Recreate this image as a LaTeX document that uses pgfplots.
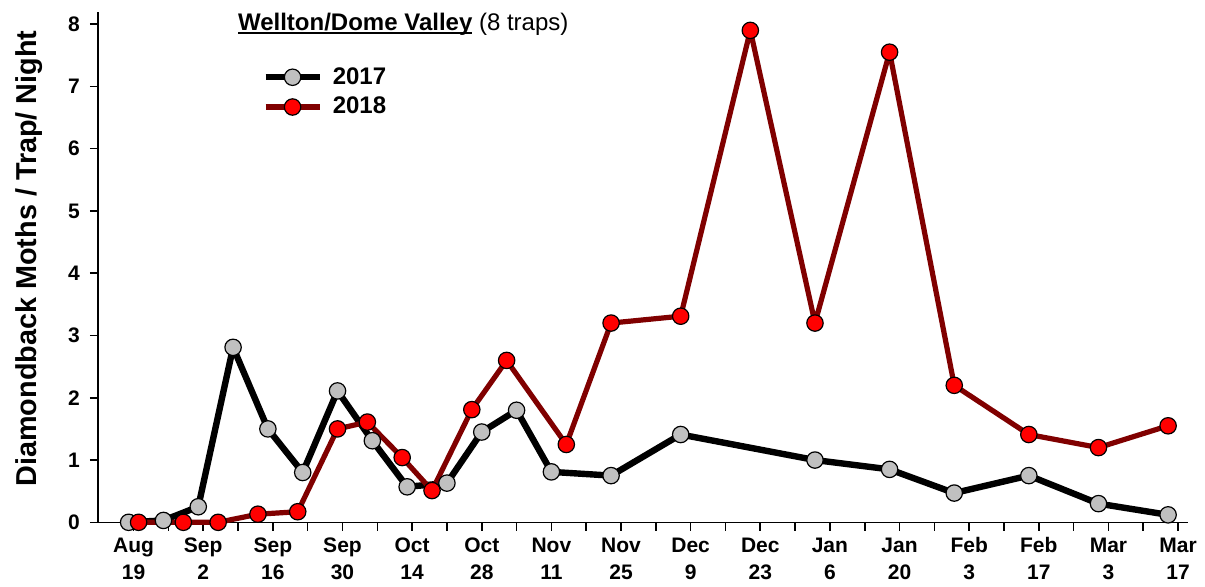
\documentclass[border=0pt]{standalone}
\usepackage{fontspec}
\setmainfont{Liberation Sans}
\usepackage{pgfplots}
\pgfplotsset{compat=1.18}
\definecolor{mgray}{RGB}{192,192,192}
\definecolor{dred}{RGB}{128,0,0}
\newcommand\ul[1]{\setbox0\hbox{#1}\rlap{\rule[-2.1pt]{\wd0}{0.9pt}}\box0}
\begin{document}
\begin{tikzpicture}
\begin{axis}[
 name=ax,
 scale only axis,
 width=544.85pt, height=255.3pt,
 xmin=-7.1, xmax=212, ymin=0, ymax=8.2,
 axis lines=left,
 axis line style={-, line width=0.8pt},
 tick align=outside,
 major tick length=4.2pt, minor tick length=4.2pt,
 tick style={line width=0.8pt, black},
 xtick={0,14,...,210},
 minor xtick={7,21,...,203},
 xticklabels={{Aug\\19},{Sep\\2},{Sep\\16},{Sep\\30},{Oct\\14},{Oct\\28},{Nov\\11},{Nov\\25},{Dec\\9},{Dec\\23},{Jan\\6},{Jan\\20},{Feb\\3},{Feb\\17},{Mar\\3},{Mar\\17}},
 xticklabel style={align=center, font=\bfseries\fontsize{10.5}{13.5}\selectfont},
 ytick={0,...,8},
 yticklabel style={font=\bfseries\fontsize{10.5}{12}\selectfont, xshift=-1.5pt},
 /pgf/number format/assume math mode=true,
 every axis y label/.style={at={(axis description cs:-0.0637,0.5166)}, rotate=90, anchor=center},
 ylabel={Diamondback Moths / Trap/ Night},
 ylabel style={font=\bfseries\fontsize{14.4}{16}\selectfont},
 clip=false,
 legend style={at={(rel axis cs:0.1502,0.8996)}, anchor=north west, draw=none, fill=none, inner sep=0pt, font=\bfseries\fontsize{12}{14}\selectfont, row sep=1pt, /tikz/every odd column/.append style={column sep=3pt}},
 legend image code/.code={\draw[mark repeat=2,mark phase=2] plot coordinates {(0pt,0pt)(13.5pt,0pt)(27pt,0pt)};},
 legend cell align=left,
]
\addplot[black, line width=3.2pt, line join=round, mark=*, mark size=4.1pt, mark options={fill=mgray, draw=black, line width=0.6pt}] coordinates {
(-1,0) (6,0.03) (13,0.25) (20,2.81) (27,1.50) (34,0.80) (41,2.11) (48,1.31) (55,0.57) (63,0.63) (70,1.45) (77,1.80) (84,0.81) (96,0.75) (110,1.41) (137,1.00) (152,0.85) (165,0.47) (180,0.75) (194,0.30) (208,0.12)
};
\addlegendentry{2017}
\addplot[dred, line width=2.6pt, line join=round, mark=*, mark size=4.1pt, mark options={fill=red, draw=black, line width=0.6pt}] coordinates {
(1,0) (10,0) (17,0) (25,0.13) (33,0.17) (41,1.50) (47,1.61) (54,1.04) (60,0.51) (68,1.81) (75,2.60) (87,1.25) (96,3.20) (110,3.31) (124,7.90) (137,3.20) (152,7.55) (165,2.20) (180,1.41) (194,1.20) (208,1.55)
};
\addlegendentry{2018}
\node[anchor=base west, font=\fontsize{12}{14}\selectfont] at (rel axis cs:0.1218,0.964) {\ul{\textbf{Wellton/Dome Valley}}\ (8 traps)};
\end{axis}
\pgfresetboundingbox
\path ([shift={(-49.15pt,-31.85pt)}]ax.south west) rectangle ([shift={(553.35pt,261.15pt)}]ax.south west);
\end{tikzpicture}
\end{document}
